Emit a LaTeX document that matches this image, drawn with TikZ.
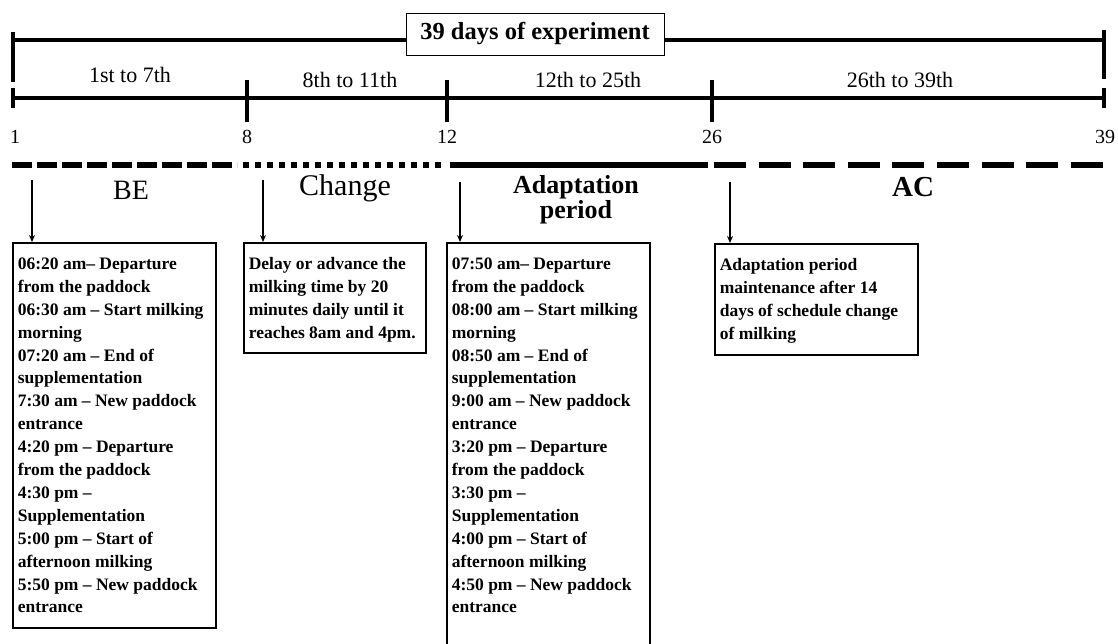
\documentclass[tikz,border=0pt]{standalone}
\usepackage{fontspec}
\setmainfont{Liberation Serif}
\usetikzlibrary{arrows.meta}
\newcommand{\boxtext}[3]{\parbox[c][#1][t]{#2}{\raggedright #3}}
\begin{document}
\begin{tikzpicture}[x=1pt,y=-1pt,
  bar/.style={line width=4pt},
  tickmark/.style={line width=4pt},
  phase/.style={line width=6.5pt},
  period/.style={font=\fontsize{22}{24}\selectfont},
  num/.style={font=\fontsize{20}{22}\selectfont},
  plabel/.style={font=\fontsize{28}{30}\selectfont},
  infobox/.style={draw, line width=1.6pt, anchor=north west, inner xsep=5pt, inner ysep=15pt,
     font=\bfseries\fontsize{17.5}{22.9}\selectfont},
  pointer/.style={line width=1.2pt, -{Stealth[length=7pt,width=6pt]}}
]
\useasboundingbox (0,0) rectangle (1118,644);
\clip (0,0) rectangle (1118,644);
% top bar
\coordinate (tl) at (13,40);
\coordinate (tr) at (1104,40);
\draw[bar] (tl) -- (tr);
\draw[tickmark] (13,32) -- (13,82);
\draw[tickmark] (1104,30) -- (1104,79);
\node[draw, fill=white, line width=0.8pt, minimum width=258pt, minimum height=42pt, inner sep=0pt,
  font=\bfseries\fontsize{24.5}{26}\selectfont] (title) at (535,34) {39 days of experiment};
% second bar
\coordinate (d1) at (13,98);
\coordinate (d39) at (1104,98);
\draw[bar] (d1) -- (d39);
\draw[tickmark] (13,88) -- (13,108);
\draw[tickmark] (1104,88) -- (1104,108);
\draw[tickmark] (247,80) -- (247,122);
\draw[tickmark] (447,80) -- (447,122);
\draw[tickmark] (712,80) -- (712,122);
\node[period] (p1) at (130,75) {1st to 7th};
\node[period] (p2) at (350,80) {8th to 11th};
\node[period] (p3) at (588,80) {12th to 25th};
\node[period] (p4) at (900,80) {26th to 39th};
\node[num] (n1) at (15,137) {1};
\node[num] (n8) at (247,137) {8};
\node[num] (n12) at (447,137) {12};
\node[num] (n26) at (712,137) {26};
\node[num] (n39) at (1105,137) {39};
% phase line
\draw[phase, dash pattern=on 20pt off 5pt] (12,165) -- (237,165);
\draw[phase, dash pattern=on 6pt off 6pt] (243,165) -- (443,165);
\draw[phase] (450,165) -- (708,165);
\draw[phase, dash pattern=on 32pt off 12.6pt] (714,165) -- (1106,165);
% phase labels
\node[plabel] (be) at (131,190) {BE};
\node[plabel, font=\fontsize{30}{32}\selectfont] (ch) at (345,188) {Change};
\node[font=\bfseries\fontsize{26}{25}\selectfont, align=center] (ad) at (576,200) {Adaptation\\period};
\node[plabel, font=\bfseries\fontsize{29}{30}\selectfont] (ac) at (913,187) {AC};
% boxes
\node[infobox] (bebox) at (12,242) {\boxtext{355pt}{193pt}{06:20 am-- Departure\\from the paddock\\06:30 am -- Start milking\\morning\\07:20 am -- End of\\supplementation\\7:30 am -- New paddock\\entrance\\4:20 pm -- Departure\\from the paddock\\4:30 pm --\\Supplementation\\5:00 pm -- Start of\\afternoon milking\\5:50 pm -- New paddock\\entrance}};
\node[infobox] (chbox) at (243,242) {\boxtext{80pt}{172pt}{Delay or advance the\\milking time by 20\\minutes daily until it\\reaches 8am and 4pm.}};
\node[infobox] (adbox) at (446,242) {\boxtext{400pt}{193pt}{07:50 am-- Departure\\from the paddock\\08:00 am -- Start milking\\morning\\08:50 am -- End of\\supplementation\\9:00 am -- New paddock\\entrance\\3:20 pm -- Departure\\from the paddock\\3:30 pm --\\Supplementation\\4:00 pm -- Start of\\afternoon milking\\4:50 pm -- New paddock\\entrance}};
\node[infobox] (acbox) at (714,243) {\boxtext{81pt}{193pt}{Adaptation period\\maintenance after 14\\days of schedule change\\of milking}};
% arrows
\coordinate (a1) at (32,180);
\coordinate (a2) at (263,180);
\coordinate (a3) at (460,182);
\coordinate (a4) at (730,182);
\draw[pointer] (a1) -- (a1 |- bebox.north);
\draw[pointer] (a2) -- (a2 |- chbox.north);
\draw[pointer] (a3) -- (a3 |- adbox.north);
\draw[pointer] (a4) -- (a4 |- acbox.north);
\end{tikzpicture}
\end{document}
